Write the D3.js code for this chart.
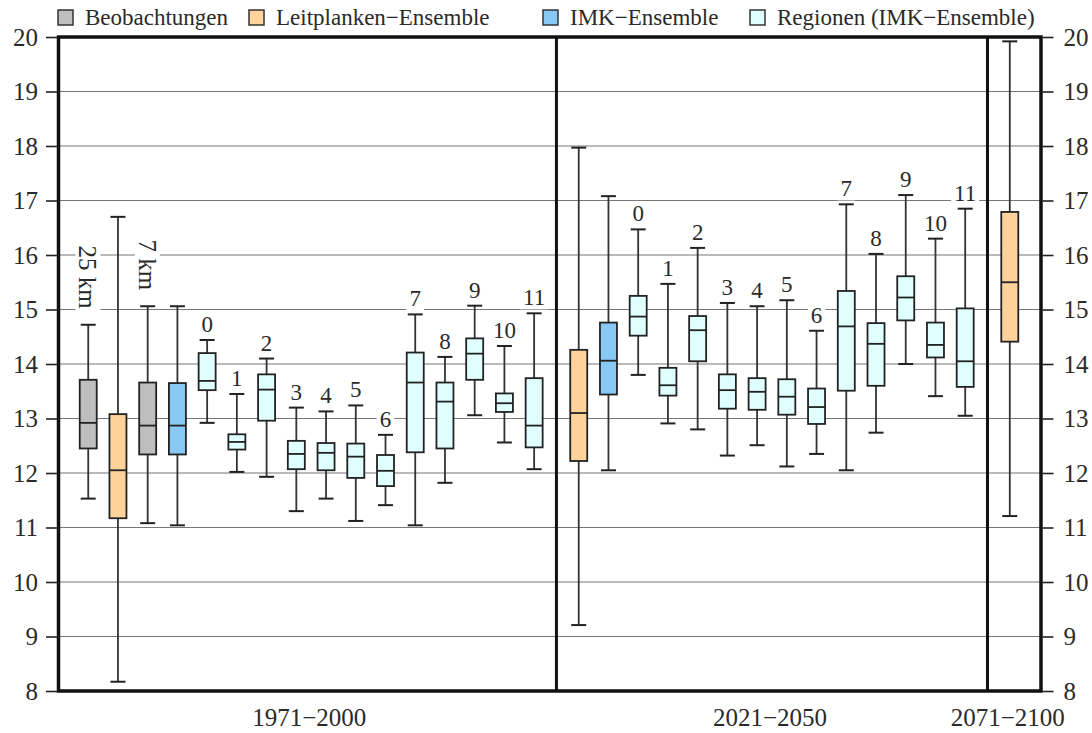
<!DOCTYPE html>
<html>
<head>
<meta charset="utf-8">
<script src="https://cdn.jsdelivr.net/npm/d3@7"></script>
<style>
  html, body { margin: 0; padding: 0; background: #fff; }
  svg { display: block; font-family: "Liberation Serif", "DejaVu Serif", serif; }
</style>
</head>
<body>
<svg id="chart" width="1092" height="733"></svg>
<script>
// Periods and legend entries
const periods = ["1971−2000", "2021−2050", "2071−2100"];
const legendLabels = ["Beobachtungen", "Leitplanken−Ensemble", "IMK−Ensemble", "Regionen (IMK−Ensemble)"];
const legendGroups = ["obs", "lp", "imk", "reg"];
const yTicks = [8, 9, 10, 11, 12, 13, 14, 15, 16, 17, 18, 19, 20];

// 1971–2000
const labels1971 = ["25 km", "", "7 km", "", "0", "1", "2", "3", "4", "5", "6", "7", "8", "9", "10", "11"];
const groups1971 = ["obs", "lp", "obs", "imk", "reg", "reg", "reg", "reg", "reg", "reg", "reg", "reg", "reg", "reg", "reg", "reg"];
const min1971 = [11.53, 8.17, 11.08, 11.04, 12.92, 12.02, 11.93, 11.30, 11.53, 11.12, 11.41, 11.04, 11.82, 13.06, 12.56, 12.07];
const q1_1971 = [12.45, 11.17, 12.34, 12.34, 13.52, 12.43, 12.96, 12.07, 12.05, 11.91, 11.76, 12.38, 12.45, 13.71, 13.12, 12.47];
const med1971 = [12.92, 12.05, 12.87, 12.87, 13.69, 12.57, 13.53, 12.35, 12.37, 12.30, 12.04, 13.66, 13.31, 14.19, 13.28, 12.87];
const q3_1971 = [13.71, 13.08, 13.66, 13.65, 14.20, 12.71, 13.81, 12.59, 12.55, 12.54, 12.33, 14.21, 13.66, 14.47, 13.46, 13.74];
const max1971 = [14.72, 16.70, 15.06, 15.06, 14.44, 13.45, 14.10, 13.20, 13.13, 13.24, 12.70, 14.91, 14.13, 15.07, 14.33, 14.93];

// 2021–2050
const labels2021 = ["", "", "0", "1", "2", "3", "4", "5", "6", "7", "8", "9", "10", "11"];
const groups2021 = ["lp", "imk", "reg", "reg", "reg", "reg", "reg", "reg", "reg", "reg", "reg", "reg", "reg", "reg"];
const min2021 = [9.21, 12.05, 13.80, 12.91, 12.80, 12.32, 12.51, 12.12, 12.35, 12.05, 12.74, 14.00, 13.41, 13.05];
const q1_2021 = [12.22, 13.44, 14.52, 13.42, 14.05, 13.18, 13.16, 13.07, 12.90, 13.51, 13.60, 14.80, 14.12, 13.58];
const med2021 = [13.10, 14.06, 14.87, 13.61, 14.62, 13.52, 13.49, 13.40, 13.21, 14.69, 14.37, 15.22, 14.35, 14.05];
const q3_2021 = [14.26, 14.76, 15.25, 13.93, 14.88, 13.81, 13.74, 13.72, 13.55, 15.34, 14.75, 15.61, 14.76, 15.02];
const max2021 = [17.97, 17.08, 16.47, 15.47, 16.13, 15.12, 15.06, 15.17, 14.61, 16.93, 16.02, 17.10, 16.30, 16.85];

// 2071–2100
const labels2071 = [""];
const groups2071 = ["lp"];
const min2071 = [11.21];
const q1_2071 = [14.41];
const med2071 = [15.50];
const q3_2071 = [16.79];
const max2071 = [19.92];

const fills = { obs: "#bebebe", lp: "#ffd39b", imk: "#87c8f5", reg: "#e0ffff" };

// Box records per section; slots place the boxes along one continuous axis
const sections = [
  { labels: labels1971, groups: groups1971, min: min1971, q1: q1_1971, med: med1971, q3: q3_1971, max: max1971, start: 0 },
  { labels: labels2021, groups: groups2021, min: min2021, q1: q1_2021, med: med2021, q3: q3_2021, max: max2021, start: 16.5 },
  { labels: labels2071, groups: groups2071, min: min2071, q1: q1_2071, med: med2071, q3: q3_2071, max: max2071, start: 31 }
];
const sectionBounds = [-1, 15.75, 30.25, 32.05];

const boxes = [];
sections.forEach((s, si) => {
  s.labels.forEach((lab, i) => {
    boxes.push({ section: si, slot: s.start + i, label: lab, group: s.groups[i],
      min: s.min[i], q1: s.q1[i], med: s.med[i], q3: s.q3[i], max: s.max[i] });
  });
});

const svg = d3.select("#chart");
const plotLeft = 58.5, plotRight = 1041, plotTop = 37, plotBottom = 691;
const textColor = "#2a2a2a";

const x = d3.scaleLinear().domain([sectionBounds[0], sectionBounds[3]]).range([plotLeft, plotRight]);
const y = d3.scaleLinear().domain([8, 20]).range([plotBottom, plotTop]);

const boxW = 17, capW = 15;

// Horizontal grid
svg.append("g").selectAll("line").data(yTicks.filter(t => t > 8 && t < 20)).join("line")
  .attr("x1", plotLeft).attr("x2", plotRight)
  .attr("y1", d => y(d)).attr("y2", d => y(d))
  .attr("stroke", "#777").attr("stroke-width", 1.2);

// Labels above whiskers, with white backing that cuts the grid
const labG = svg.append("g").attr("fill", textColor);
boxes.filter(b => b.label).forEach(b => {
  const cx = x(b.slot), ty = y(b.max);
  const rotated = b.label.indexOf("km") >= 0;
  const g = labG.append("g");
  let t;
  if (rotated) {
    g.attr("transform", `translate(${cx},${ty - 16}) rotate(90)`);
    t = g.append("text").attr("text-anchor", "end").attr("dy", "0.35em")
      .attr("font-size", 25).text(b.label);
  } else {
    g.attr("transform", `translate(${cx},${ty - 8})`);
    t = g.append("text").attr("text-anchor", "middle")
      .attr("font-size", 23).text(b.label);
  }
  const bb = t.node().getBBox();
  g.insert("rect", "text")
    .attr("x", bb.x - 3).attr("y", bb.y + 1)
    .attr("width", bb.width + 6).attr("height", bb.height - 2)
    .attr("fill", "#fff");
});

// Whiskers
const bg = svg.append("g");
bg.selectAll("line.wh").data(boxes).join("line").attr("class", "wh")
  .attr("x1", d => x(d.slot)).attr("x2", d => x(d.slot))
  .attr("y1", d => y(d.min)).attr("y2", d => y(d.max))
  .attr("stroke", "#333").attr("stroke-width", 1.8);
bg.selectAll("line.capHi").data(boxes).join("line").attr("class", "capHi")
  .attr("x1", d => x(d.slot) - capW / 2).attr("x2", d => x(d.slot) + capW / 2)
  .attr("y1", d => y(d.max)).attr("y2", d => y(d.max))
  .attr("stroke", "#222").attr("stroke-width", 2);
bg.selectAll("line.capLo").data(boxes).join("line").attr("class", "capLo")
  .attr("x1", d => x(d.slot) - capW / 2).attr("x2", d => x(d.slot) + capW / 2)
  .attr("y1", d => y(d.min)).attr("y2", d => y(d.min))
  .attr("stroke", "#222").attr("stroke-width", 2);

// Boxes and medians
bg.selectAll("rect.box").data(boxes).join("rect").attr("class", "box")
  .attr("x", d => x(d.slot) - boxW / 2).attr("width", boxW)
  .attr("y", d => y(d.q3)).attr("height", d => y(d.q1) - y(d.q3))
  .attr("fill", d => fills[d.group]).attr("stroke", "#222").attr("stroke-width", 1.8);
bg.selectAll("line.med").data(boxes).join("line").attr("class", "med")
  .attr("x1", d => x(d.slot) - boxW / 2).attr("x2", d => x(d.slot) + boxW / 2)
  .attr("y1", d => y(d.med)).attr("y2", d => y(d.med))
  .attr("stroke", "#222").attr("stroke-width", 1.8);

// Section dividers
svg.append("g").selectAll("line").data(sectionBounds.slice(1, 3)).join("line")
  .attr("x1", d => x(d)).attr("x2", d => x(d))
  .attr("y1", plotTop).attr("y2", plotBottom)
  .attr("stroke", "#111").attr("stroke-width", 3);

// Frame
svg.append("rect").attr("x", plotLeft).attr("y", plotTop)
  .attr("width", plotRight - plotLeft).attr("height", plotBottom - plotTop)
  .attr("fill", "none").attr("stroke", "#111").attr("stroke-width", 3.5);

// Axes on both sides
const axL = d3.axisLeft(y).tickValues(yTicks).tickSize(11).tickPadding(8).tickFormat(d3.format("d"));
const axR = d3.axisRight(y).tickValues(yTicks).tickSize(11).tickPadding(10).tickFormat(d3.format("d"));
function styleAxis(g) {
  g.select(".domain").remove();
  g.selectAll(".tick line").attr("stroke", "#222").attr("stroke-width", 1.6);
  g.selectAll(".tick text").attr("fill", textColor).attr("font-size", 25)
    .attr("font-family", "Liberation Serif, DejaVu Serif, serif");
}
svg.append("g").attr("transform", `translate(${plotLeft - 1.5},0)`).call(axL).call(styleAxis);
svg.append("g").attr("transform", `translate(${plotRight + 1.5},0)`).call(axR).call(styleAxis);

// Period labels centred under the boxes of each section
const periodCenters = sections.map(s => s.start + (s.labels.length - 1) / 2);
svg.append("g").selectAll("text").data(periods).join("text")
  .attr("x", (d, i) => x(periodCenters[i]) - 2)
  .attr("y", 726).attr("text-anchor", "middle")
  .attr("font-size", 25).attr("fill", textColor).text(d => d);

// Legend
const legX = [58, 249, 543, 750];
const leg = svg.append("g");
legendLabels.forEach((lab, i) => {
  leg.append("rect").attr("x", legX[i]).attr("y", 10).attr("width", 15).attr("height", 15)
    .attr("fill", fills[legendGroups[i]]).attr("stroke", "#333").attr("stroke-width", 1.5);
  leg.append("text").attr("x", legX[i] + 27).attr("y", 25)
    .attr("font-size", 23).attr("fill", textColor).text(lab);
});
</script>
</body>
</html>
